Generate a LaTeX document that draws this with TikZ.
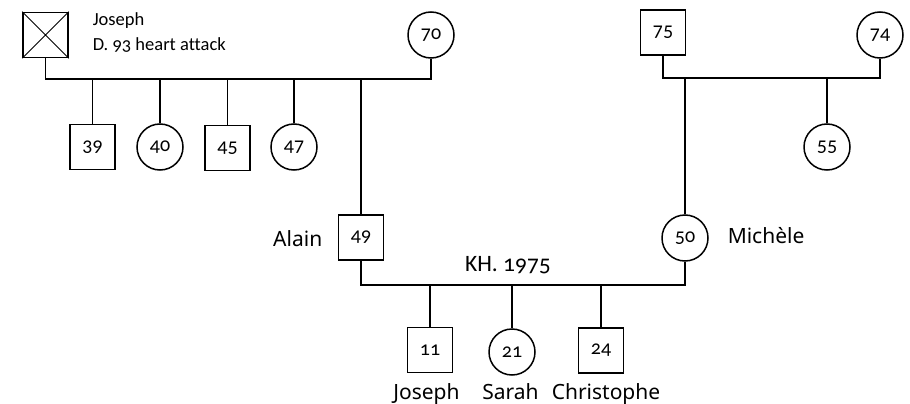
\documentclass[tikz,border=0pt]{standalone}
\usepackage{fontspec}
\setmainfont{Carlito}[Numbers=OldStyle,Ligatures=NoCommon]
\newfontfamily\namefont{Noto Sans}
\begin{document}
\begin{tikzpicture}[x=1pt,y=-1pt,
  line width=1.5pt,
  male/.style={draw,rectangle,minimum size=45pt,inner sep=0pt,font=\fontsize{20}{22}\selectfont},
  female/.style={draw,circle,minimum size=46pt,inner sep=0pt,font=\fontsize{20}{22}\selectfont},
  note/.style={font=\fontsize{18.5}{22}\selectfont,inner sep=0pt},
  pname/.style={font=\namefont\fontsize{21}{24}\selectfont,inner sep=0pt},
  lnk/.style={line width=1.5pt}]
\useasboundingbox (0,0) rectangle (910,404);
% grandparents left
\node[male] (jos) at (45.5,35) {};
\draw[line width=1pt] (jos.north west) -- (jos.south east) (jos.north east) -- (jos.south west);
\node[note,anchor=base west] (josname) at (92,25.5) {Joseph};
\node[note,anchor=base west] (josdeath) at (92,51) {D. 93 heart attack};
\node[female] (g70) at (431,35) {70};
\coordinate (jl) at (45.5,79);
\coordinate (jr) at (431,79);
\draw[lnk] (jos.south) -- (jl) -- (jr) -- (g70.south);
% children left
\node[male] (c39) at (92.5,147) {39};
\node[female] (c40) at (160,147) {40};
\node[male] (c45) at (227.5,148) {45};
\node[female] (c47) at (294,147) {47};
\node[male] (c49) at (361,237.5) {49};
\node[pname,anchor=base east] (alain) at (323,246) {Alain};
\foreach \n in {c39,c40,c45,c47,c49}
  \draw[lnk] (\n.north) -- (\n.north |- jl);
% grandparents right
\node[male] (g75) at (663,32.5) {75};
\node[female] (g74) at (880,35) {74};
\coordinate (rl) at (663,78);
\coordinate (rr) at (880,78);
\draw[lnk] (g75.south) -- (rl) -- (rr) -- (g74.south);
\node[female] (c55) at (827,147) {55};
\node[female] (c50) at (685,238) {50};
\node[pname,anchor=base west] (mich) at (727,243.5) {Michèle};
\foreach \n in {c55,c50}
  \draw[lnk] (\n.north) -- (\n.north |- rl);
% marriage
\coordinate (ml) at (361,285);
\coordinate (mr) at (685,285);
\draw[lnk] (c49.south) -- (ml) -- (mr) -- (c50.south);
\node[note,anchor=base,font=\fontsize{23.5}{26}\selectfont] (kh) at (508,271) {KH. 1975};
% grandchildren
\node[male] (k11) at (430,350) {11};
\node[female] (k21) at (512,352) {21};
\node[male] (k24) at (601,350.5) {24};
\foreach \n in {k11,k21,k24}
  \draw[lnk] (\n.north) -- (\n.north |- ml);
\node[pname,anchor=base] (n11) at (426.5,399) {Joseph};
\node[pname,anchor=base] (n21) at (510.5,399) {Sarah};
\node[pname,anchor=base] (n24) at (606,399) {Christophe};
\end{tikzpicture}
\end{document}
